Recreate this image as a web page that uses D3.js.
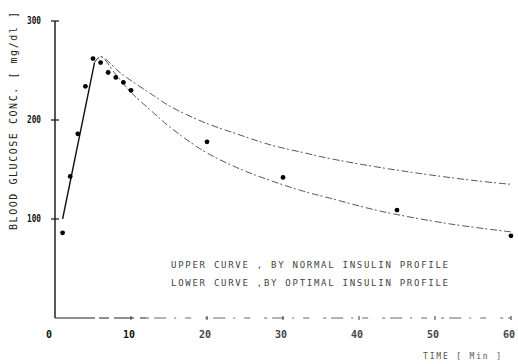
<!DOCTYPE html>
<html>
<head>
<meta charset="utf-8">
<script src="https://cdn.jsdelivr.net/npm/d3@7"></script>
<style>
  html, body { margin: 0; padding: 0; background: #fff; }
  svg text { font-family: "DejaVu Sans Mono", monospace; }
</style>
</head>
<body>
<figure id="chart" style="margin:0"></figure>
<script>
// measured samples (time in min, glucose in mg/dl)
const sampleTimes = [1, 2, 3, 4, 5, 6, 7, 8, 9, 10, 20, 30, 45, 60];
const sampleValues = [86, 143, 186, 234, 262, 258, 248, 243, 238, 230, 178, 142, 109, 83];

// rising phase (solid line)
const riseTimes = [1, 5.2];
const riseValues = [100, 258];

// upper curve, normal insulin profile
const upperTimes = [5.2, 6, 8.7, 13.1, 15.1, 19.5, 23.9, 28.3, 32.7, 36.2, 42, 48, 55, 60];
const upperValues = [258, 264, 247, 224, 214, 198, 186, 175, 167, 161, 153, 146, 139, 135];

// lower curve, optimal insulin profile
const lowerTimes = [5.2, 6, 8, 10, 13, 15.1, 19.5, 23.9, 28.3, 32.7, 36.2, 42.8, 52, 60];
const lowerValues = [258, 264, 246, 228, 207, 193, 169, 152, 139, 128, 121, 108, 95, 87];

const xTicks = [0, 10, 20, 30, 40, 50, 60];
const yTicks = [100, 200, 300];
const legendLines = [
  "UPPER CURVE , BY NORMAL INSULIN PROFILE",
  "LOWER CURVE ,BY OPTIMAL INSULIN PROFILE"
];

const width = 518, height = 364;

const svg = d3.select("#chart")
  .append("svg")
  .attr("width", width)
  .attr("height", height);

const x = d3.scaleLinear().domain([0, 60]).range([55, 511]);
const y = d3.scaleLinear().domain([0, 300]).range([318, 21]);

const zip = (ts, vs) => ts.map((t, i) => [t, vs[i]]);

// axes
svg.append("line")
  .attr("x1", x(0)).attr("x2", x(0))
  .attr("y1", y(0)).attr("y2", y(300))
  .attr("stroke", "#222").attr("stroke-width", 1.5);

svg.append("line")
  .attr("x1", x(0)).attr("x2", x(12))
  .attr("y1", y(0)).attr("y2", y(0))
  .attr("stroke", "#222").attr("stroke-width", 1.1)
  .attr("stroke-dasharray", "40,4,10,5,20,6");

svg.append("line")
  .attr("x1", x(12)).attr("x2", x(60))
  .attr("y1", y(0)).attr("y2", y(0))
  .attr("stroke", "#555").attr("stroke-width", 0.9)
  .attr("stroke-dasharray", "3,5,12,8,2,9,6,14");

// y ticks and labels
yTicks.forEach(v => {
  svg.append("line")
    .attr("x1", x(0) - 4).attr("x2", x(0) + 4)
    .attr("y1", y(v)).attr("y2", y(v))
    .attr("stroke", "#111").attr("stroke-width", 1.2);
  svg.append("text")
    .attr("x", 41).attr("y", y(v) + 3)
    .attr("text-anchor", "end")
    .attr("textLength", 14).attr("lengthAdjust", "spacingAndGlyphs")
    .style("font-size", "10px").style("font-weight", "bold")
    .attr("fill", "#111")
    .text(v);
});

// x ticks and labels
xTicks.forEach(t => {
  if (t > 0) {
    svg.append("line")
      .attr("x1", x(t)).attr("x2", x(t))
      .attr("y1", y(0) - 2).attr("y2", y(0) + 2)
      .attr("stroke", "#333").attr("stroke-width", 1);
  }
  svg.append("text")
    .attr("x", x(t) - (t === 0 ? 6 : 2)).attr("y", 338)
    .attr("text-anchor", "middle")
    .style("font-size", "10px").style("font-weight", "bold")
    .attr("fill", t <= 10 ? "#111" : "#444")
    .text(t);
});

// axis titles
svg.append("text")
  .attr("transform", "translate(17,121) rotate(-90)")
  .attr("text-anchor", "middle")
  .attr("textLength", 218).attr("lengthAdjust", "spacing")
  .style("font-size", "10px")
  .attr("fill", "#222")
  .text("BLOOD GLUCOSE CONC. [ mg/dl ]");

svg.append("text")
  .attr("x", 462).attr("y", 359)
  .attr("text-anchor", "middle")
  .attr("textLength", 78).attr("lengthAdjust", "spacing")
  .style("font-size", "8px")
  .attr("fill", "#555")
  .text("TIME [ Min ]");

// curves
const line = d3.line()
  .x(d => x(d[0]))
  .y(d => y(d[1]));

svg.append("path")
  .datum(zip(riseTimes, riseValues))
  .attr("d", line)
  .attr("fill", "none")
  .attr("stroke", "#111").attr("stroke-width", 1.4);

const smooth = d3.line()
  .x(d => x(d[0]))
  .y(d => y(d[1]))
  .curve(d3.curveCatmullRom.alpha(0.5));

[zip(upperTimes, upperValues), zip(lowerTimes, lowerValues)].forEach(pts => {
  svg.append("path")
    .datum(pts)
    .attr("d", smooth)
    .attr("fill", "none")
    .attr("stroke", "#444").attr("stroke-width", 0.9)
    .attr("stroke-dasharray", "7,2,2,3");
});

// measured points
svg.selectAll("circle.sample")
  .data(zip(sampleTimes, sampleValues))
  .enter()
  .append("circle")
  .attr("class", "sample")
  .attr("cx", d => x(d[0]))
  .attr("cy", d => y(d[1]))
  .attr("r", 2.4)
  .attr("fill", "#000");

// legend text
legendLines.forEach((s, i) => {
  svg.append("text")
    .attr("x", 171).attr("y", 268 + i * 18)
    .attr("textLength", 277).attr("lengthAdjust", "spacing")
    .style("font-size", "9px")
    .attr("fill", "#444")
    .text(s);
});
</script>
</body>
</html>
